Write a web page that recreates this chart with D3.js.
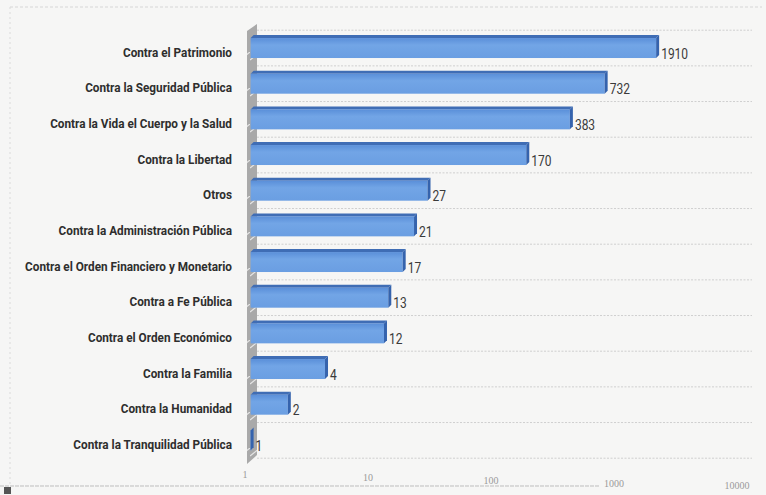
<!DOCTYPE html>
<html><head><meta charset="utf-8">
<script src="https://cdn.jsdelivr.net/npm/d3@7"></script>
<style>
html,body{margin:0;padding:0;background:#f6f6f5;}
svg{display:block;}
</style></head>
<body>
<svg id="chart" width="766" height="495"></svg>
<script>
const categories = [
  "Contra el Patrimonio",
  "Contra la Seguridad Pública",
  "Contra la Vida el Cuerpo y la Salud",
  "Contra la Libertad",
  "Otros",
  "Contra la Administración Pública",
  "Contra el Orden Financiero y Monetario",
  "Contra a Fe Pública",
  "Contra el Orden Económico",
  "Contra la Familia",
  "Contra la Humanidad",
  "Contra la Tranquilidad Pública"
];
const values = [1910, 732, 383, 170, 27, 21, 17, 13, 12, 4, 2, 1];
const tickValues = [1, 10, 100, 1000, 10000];
const tickLabels = ["1", "10", "100", "1000", "10000"];

const W = 766, H = 495;
const svg = d3.select("#chart");
const labelFont = "Roboto,'Open Sans',sans-serif";

// frame (scanned chart border)
svg.append("rect").attr("x", 0).attr("y", 0).attr("width", W).attr("height", H).attr("fill", "#f6f6f5");
svg.append("line").attr("x1", 10).attr("x2", 762).attr("y1", 7).attr("y2", 7)
  .attr("stroke", "#d6d6d6").attr("stroke-dasharray", "3,2");
svg.append("line").attr("x1", 10).attr("x2", 10).attr("y1", 7).attr("y2", 484)
  .attr("stroke", "#dadada").attr("stroke-dasharray", "2,3");
svg.append("line").attr("x1", 0).attr("x2", 600).attr("y1", 486).attr("y2", 486)
  .attr("stroke", "#bdbdbd").attr("stroke-dasharray", "4,1");
svg.append("rect").attr("x", 4).attr("y", 487).attr("width", 7).attr("height", 7).attr("fill", "#555");

// scales
const y = d3.scaleBand().domain(categories).range([30.2, 458.2]).paddingInner(0.44).paddingOuter(0.22);
const x = d3.scaleLog().domain([1, 10000]).range([250.6, 745]);
const xBack = d3.scaleLog().domain([1, 10000]).range([245, 737]);
const yTick = d3.scaleLog().domain([1, 10000]).range([476, 487]);

// horizontal floor gridlines at band boundaries
const step = y.step();
const gridY = d3.range(categories.length + 1).map(i => y.range()[0] + step * i);
svg.append("g").selectAll("line").data(gridY).join("line")
  .attr("x1", 257).attr("x2", 752)
  .attr("y1", d => d).attr("y2", d => d)
  .attr("stroke", "#cfcfcf").attr("stroke-dasharray", "2,1.5").attr("stroke-width", 1);

// wall
const defs = svg.append("defs");
const pat = defs.append("pattern").attr("id", "hatch").attr("patternUnits", "userSpaceOnUse")
  .attr("width", 10).attr("height", 36).attr("patternTransform", "translate(0,16)");
pat.append("rect").attr("width", 10).attr("height", 36).attr("fill", "#a9a9a9");
pat.append("line").attr("x1", 0).attr("y1", 8).attr("x2", 10).attr("y2", 0)
  .attr("stroke", "#e6e6e6").attr("stroke-width", 1.2);
svg.append("polygon")
  .attr("points", [[247, 31], [257, 24], [257, 455], [247, 464]].map(p => p.join(",")).join(" "))
  .attr("fill", "url(#hatch)");

// bar gradient
const grad = defs.append("linearGradient").attr("id", "front").attr("x1", 0).attr("x2", 0).attr("y1", 0).attr("y2", 1);
grad.append("stop").attr("offset", "0%").attr("stop-color", "#5a8fd9");
grad.append("stop").attr("offset", "35%").attr("stop-color", "#72a5e6");
grad.append("stop").attr("offset", "100%").attr("stop-color", "#6a9ee2");

const d3off = 3;
const bars = svg.append("g").selectAll("g").data(values).join("g");
bars.each(function(v, i) {
  const g = d3.select(this);
  const top = y(categories[i]), bh = y.bandwidth();
  const x0 = x(1), x1 = x(v);
  g.append("polygon")
    .attr("points", [[x0, top], [x0 + d3off, top - d3off], [x1 + d3off, top - d3off], [x1, top]].map(p => p.join(",")).join(" "))
    .attr("fill", "#3f6db5");
  g.append("rect").attr("x", x0).attr("y", top).attr("width", Math.max(1, x1 - x0)).attr("height", bh)
    .attr("fill", "url(#front)");
  g.append("polygon")
    .attr("points", [[x1, top], [x1 + d3off, top - d3off], [x1 + d3off, top + bh - d3off], [x1, top + bh]].map(p => p.join(",")).join(" "))
    .attr("fill", "#3563ad");
});

// value labels (narrowed like Calibri)
const vals = svg.append("g").selectAll("text").data(values).join("text")
  .attr("x", 0).attr("y", 0)
  .attr("dominant-baseline", "middle")
  .attr("font-family", labelFont).attr("font-size", 14)
  .attr("fill", "#3a3a3a")
  .text(d => d);
const w1910 = vals.filter(d => d === 1910).node().getComputedTextLength();
const sv = 27 / w1910;
vals.attr("transform", (d, i) => `translate(${x(d) + 5},${y(categories[i]) + y.bandwidth() / 2 + 7}) scale(${sv},1)`);

// category labels
const cats = svg.append("g").selectAll("text").data(categories).join("text")
  .attr("x", 0).attr("y", 0)
  .attr("text-anchor", "end")
  .attr("dominant-baseline", "middle")
  .attr("font-family", labelFont).attr("font-weight", "bold").attr("font-size", 13.5)
  .attr("fill", "#2e2e2e")
  .text(d => d);
const wLong = cats.filter(d => d === "Contra la Vida el Cuerpo y la Salud").node().getComputedTextLength();
const sc = 182 / wLong;
cats.attr("transform", d => `translate(232,${y(d) + y.bandwidth() / 2 + 5}) scale(${sc},1)`);

// tick labels (back plane)
svg.append("g").selectAll("text").data(tickValues).join("text")
  .attr("x", d => xBack(d))
  .attr("y", d => yTick(d))
  .attr("text-anchor", "middle")
  .attr("dominant-baseline", "middle")
  .attr("font-family", "'Liberation Serif','DejaVu Serif',serif").attr("font-size", 10)
  .attr("fill", "#9a9a9a")
  .text((d, i) => tickLabels[i]);
</script>
</body></html>
